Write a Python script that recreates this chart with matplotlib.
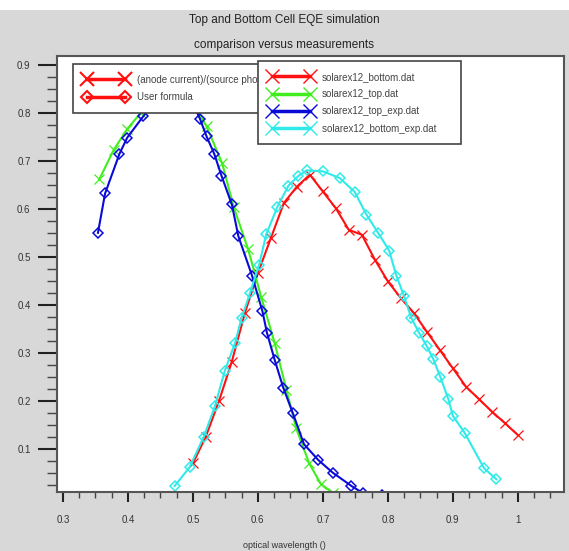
import matplotlib
matplotlib.use('Agg')
import matplotlib.pyplot as plt
from matplotlib.lines import Line2D
from matplotlib.patches import Rectangle
from matplotlib.ticker import MultipleLocator

plt.rcParams['font.family'] = ['Liberation Sans', 'DejaVu Sans']

# solarex12_bottom.dat (simulation, red)
bottom_x = [0.50, 0.52, 0.54, 0.56, 0.58, 0.60, 0.62, 0.64, 0.66, 0.68, 0.70, 0.72, 0.74,
            0.76, 0.78, 0.80, 0.82, 0.84, 0.86, 0.88, 0.90, 0.92, 0.94, 0.96, 0.98, 1.00]
bottom_y = [0.070, 0.126, 0.199, 0.282, 0.383, 0.466, 0.539, 0.612, 0.646, 0.671, 0.636, 0.601, 0.556,
            0.546, 0.494, 0.449, 0.414, 0.383, 0.344, 0.306, 0.268, 0.230, 0.204, 0.178, 0.154, 0.129]

# solarex12_top.dat (simulation, green)
top_x = [0.356, 0.378, 0.399, 0.42, 0.44, 0.46, 0.48, 0.50, 0.521, 0.545, 0.563, 0.585,
         0.605, 0.626, 0.644, 0.659, 0.679, 0.697, 0.716]
top_y = [0.661, 0.722, 0.766, 0.80, 0.83, 0.85, 0.85, 0.82, 0.772, 0.695, 0.603, 0.516,
         0.417, 0.320, 0.223, 0.143, 0.070, 0.027, 0.008]

# solarex12_top_exp.dat (measured, blue)
top_exp_x = [0.354, 0.365, 0.387, 0.399, 0.424, 0.445, 0.465, 0.485, 0.500, 0.511, 0.521, 0.533,
             0.544, 0.560, 0.570, 0.591, 0.607, 0.614, 0.626, 0.639, 0.654, 0.671, 0.693,
             0.715, 0.744, 0.762, 0.791]
top_exp_y = [0.550, 0.632, 0.714, 0.748, 0.793, 0.83, 0.85, 0.845, 0.82, 0.787, 0.751, 0.714,
             0.669, 0.609, 0.543, 0.461, 0.387, 0.342, 0.285, 0.228, 0.174, 0.110, 0.077,
             0.051, 0.023, 0.008, 0.004]

# solarex12_bottom_exp.dat (measured, cyan)
bottom_exp_x = [0.472, 0.495, 0.517, 0.534, 0.549, 0.565, 0.575, 0.588, 0.602, 0.613, 0.630, 0.647,
                0.662, 0.675, 0.700, 0.726, 0.749, 0.767, 0.785, 0.802, 0.813, 0.825, 0.836,
                0.848, 0.860, 0.870, 0.881, 0.893, 0.900, 0.918, 0.948, 0.967]
bottom_exp_y = [0.023, 0.062, 0.126, 0.189, 0.262, 0.321, 0.373, 0.425, 0.484, 0.547, 0.604, 0.648,
                0.668, 0.680, 0.678, 0.664, 0.635, 0.588, 0.550, 0.513, 0.461, 0.418, 0.373,
                0.342, 0.314, 0.287, 0.249, 0.204, 0.169, 0.134, 0.060, 0.037]

red = '#ff1010'
green = '#40ee20'
blue = '#0a0ad8'
cyan = '#30eaea'

fig = plt.figure(figsize=(5.69, 5.51), dpi=100)
fig.patch.set_facecolor('white')
fig.patches.append(Rectangle((0, 0), 1, 1 - 10 / 551, transform=fig.transFigure,
                             facecolor='#d8d8d8', edgecolor='none', zorder=-10))

ax = fig.add_axes([57 / 569, 1 - 492 / 551, 507 / 569, 436 / 551])
ax.set_facecolor('white')

xkw = dict(marker='x', markersize=7, markeredgewidth=0.9, linewidth=1.5)
dkw = dict(marker='D', markersize=5.5, markeredgewidth=1.1, markerfacecolor='none', linewidth=1.5)
ax.plot(bottom_x, bottom_y, color=red, **xkw)
ax.plot(top_x, top_y, color=green, **xkw)
ax.plot(top_exp_x, top_exp_y, color=blue, **dkw)
ax.plot(bottom_exp_x, bottom_exp_y, color=cyan, **dkw)

ax.set_xlim(0.291, 1.071)
ax.set_ylim(0.0105, 0.918)

ax.xaxis.set_minor_locator(MultipleLocator(0.025))
ax.yaxis.set_minor_locator(MultipleLocator(0.025))
ax.set_xticks([0.3, 0.4, 0.5, 0.6, 0.7, 0.8, 0.9, 1.0])
ax.set_xticklabels(['0.3', '0.4', '0.5', '0.6', '0.7', '0.8', '0.9', '1'])
ax.set_yticks([0.1, 0.2, 0.3, 0.4, 0.5, 0.6, 0.7, 0.8, 0.9])
ax.set_yticklabels(['0.1', '0.2', '0.3', '0.4', '0.5', '0.6', '0.7', '0.8', '0.9'])

ax.tick_params(axis='x', which='major', direction='out', length=7.5, width=1.5,
               color='#222222', labelsize=7, labelcolor='#333333', pad=9)
ax.tick_params(axis='x', which='minor', direction='out', length=4, width=1.0, color='#444444')
ax.tick_params(axis='y', which='major', direction='out', length=14, width=1.5,
               color='#222222', labelsize=7, labelcolor='#333333', pad=5)
ax.tick_params(axis='y', which='minor', direction='out', length=7.5, width=1.0, color='#444444')

for s in ax.spines.values():
    s.set_color('#555555')
    s.set_linewidth(1.5)

fig.text(0.5, 1 - 20 / 551, 'Top and Bottom Cell EQE simulation', ha='center', va='center',
         fontsize=8.5, color='#222222')
fig.text(0.5, 1 - 45 / 551, 'comparison versus measurements', ha='center', va='center',
         fontsize=8.5, color='#222222')
fig.text(0.5, 1 - 545 / 551, 'optical wavelength ()', ha='center', va='center',
         fontsize=6.5, color='#333333')

# legend for line styles
h1 = [Line2D([], [], color=red, marker='x', markersize=10, markeredgewidth=1.5, linewidth=2.5),
      Line2D([], [], color=red, marker='D', markersize=6, markeredgewidth=1.5,
             markerfacecolor='none', linewidth=2.5)]
leg1 = ax.legend(h1, ['(anode current)/(source photocurrent)        ', 'User formula'],
                 loc='upper left', bbox_to_anchor=((73 - 57) / 507, 1 - (64 - 56) / 436),
                 borderaxespad=0, fontsize=7, numpoints=2, handlelength=4.5,
                 handletextpad=1.0, labelspacing=0.75, borderpad=1.1, fancybox=False,
                 framealpha=1, edgecolor='#444444')
leg1.get_frame().set_linewidth(1.2)
for t in leg1.get_texts():
    t.set_color('#444444')
ax.add_artist(leg1)

# legend for files
h2 = [Line2D([], [], color=c, marker='x', markersize=10, markeredgewidth=1.0, linewidth=2.5)
      for c in [red, green, blue, cyan]]
leg2 = ax.legend(h2, ['solarex12_bottom.dat', 'solarex12_top.dat', 'solarex12_top_exp.dat',
                      'solarex12_bottom_exp.dat     '],
                 loc='upper left', bbox_to_anchor=((258 - 57) / 507, 1 - (61 - 56) / 436),
                 borderaxespad=0, fontsize=7, numpoints=2, handlelength=4.5,
                 handletextpad=1.0, labelspacing=0.75, borderpad=1.1, fancybox=False,
                 framealpha=1, edgecolor='#444444')
leg2.get_frame().set_linewidth(1.2)
leg2.set_zorder(10)
for t in leg2.get_texts():
    t.set_color('#444444')

fig.savefig('out.png', dpi=100)
